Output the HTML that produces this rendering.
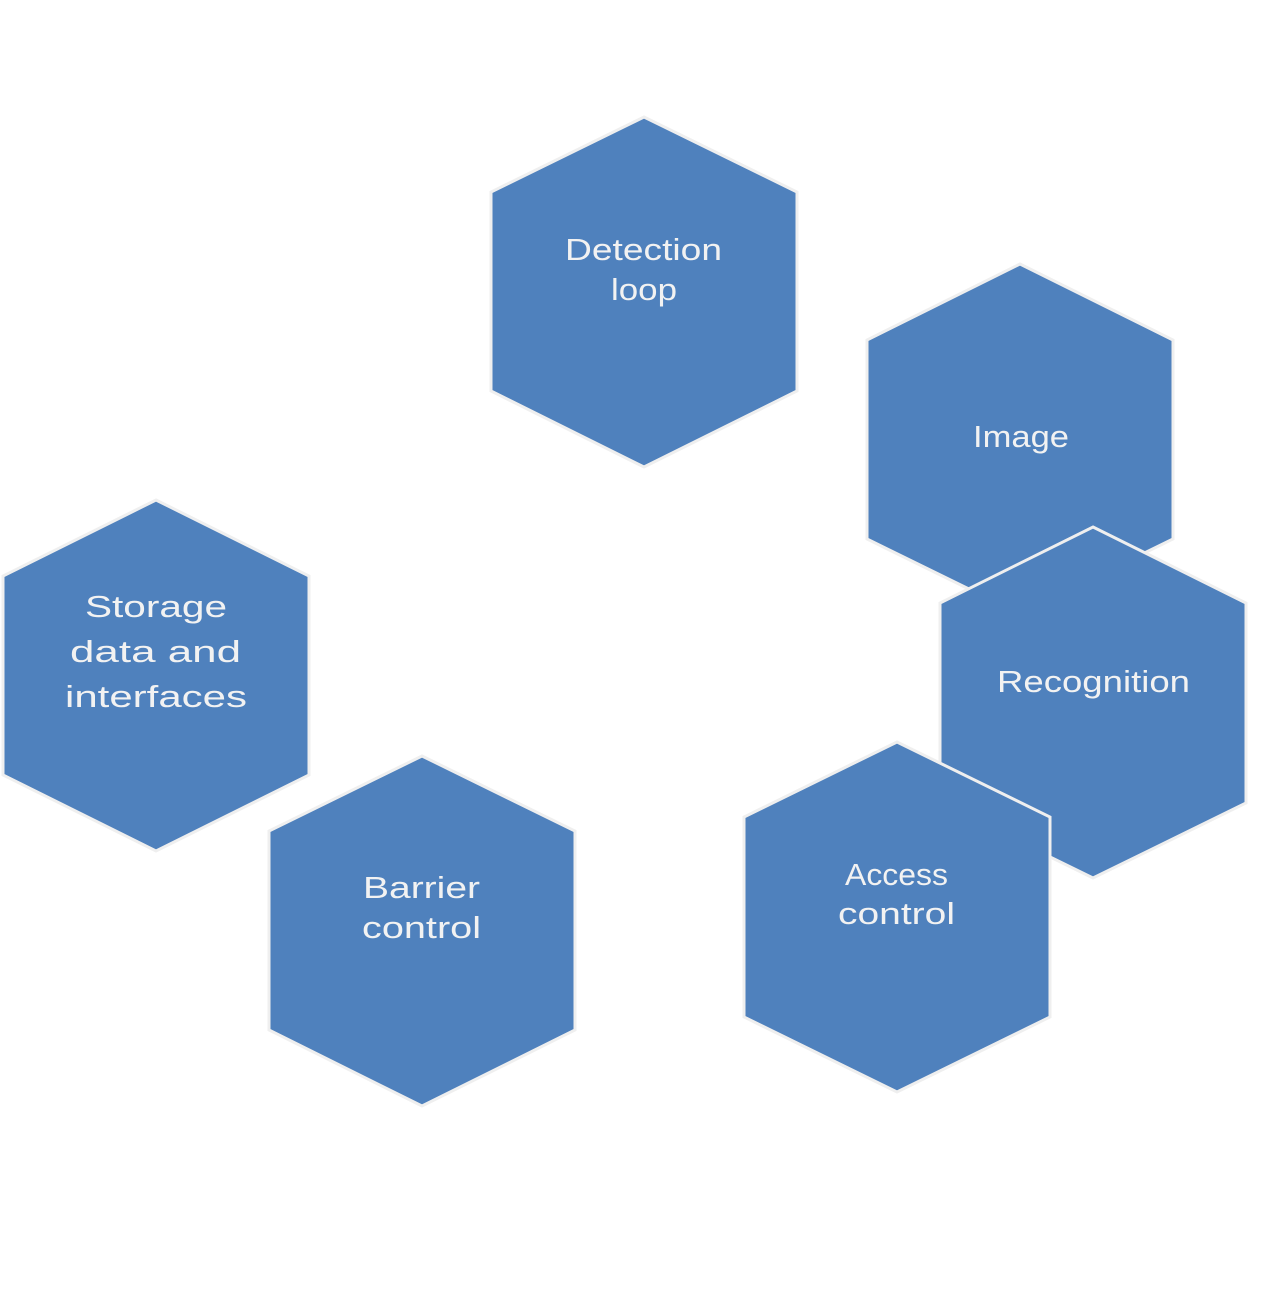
<!DOCTYPE html>
<html>
<head>
<meta charset="utf-8">
<style>
html,body{margin:0;padding:0;background:#fff;}
svg{display:block;}
text{font-family:"Liberation Sans",sans-serif;font-size:31px;fill:#f2f2f2;}
</style>
</head>
<body>
<svg width="1274" height="1300" viewBox="0 0 1274 1300" xmlns="http://www.w3.org/2000/svg">
<g fill="#4f81bd" stroke="#efefef" stroke-width="3" stroke-linejoin="miter">
  <!-- Detection loop -->
  <polygon points="644,117 797,192 797,391 644,467 491,391 491,192"/>
  <!-- Storage -->
  <polygon points="156,500 309,576 309,775 156,851 3,775 3,576"/>
  <!-- Barrier -->
  <polygon points="422,756 575,831 575,1030 422,1106 269,1030 269,831"/>
  <!-- Image -->
  <polygon points="1020,264 1173,340 1173,539 1020,614 867,539 867,340"/>
  <!-- Recognition -->
  <polygon points="1093,527 1246,603 1246,803 1093,878 940,803 940,603"/>
  <!-- Access control -->
  <polygon points="897,742 1050,817 1050,1017 897,1092 744,1017 744,817"/>
</g>
<g>
  <text x="565" y="260" textLength="157" lengthAdjust="spacingAndGlyphs">Detection</text>
  <text x="611" y="300" textLength="66" lengthAdjust="spacingAndGlyphs">loop</text>

  <text x="973" y="447" textLength="96" lengthAdjust="spacingAndGlyphs">Image</text>

  <text x="997" y="692" textLength="193" lengthAdjust="spacingAndGlyphs">Recognition</text>

  <text x="85" y="617" textLength="142" lengthAdjust="spacingAndGlyphs">Storage</text>
  <text x="70" y="662" textLength="171" lengthAdjust="spacingAndGlyphs">data and</text>
  <text x="65" y="707" textLength="182" lengthAdjust="spacingAndGlyphs">interfaces</text>

  <text x="363" y="898" textLength="117" lengthAdjust="spacingAndGlyphs">Barrier</text>
  <text x="362" y="938" textLength="119" lengthAdjust="spacingAndGlyphs">control</text>

  <text x="845" y="885" textLength="103" lengthAdjust="spacingAndGlyphs">Access</text>
  <text x="838" y="924" textLength="117" lengthAdjust="spacingAndGlyphs">control</text>
</g>
</svg>
</body>
</html>
